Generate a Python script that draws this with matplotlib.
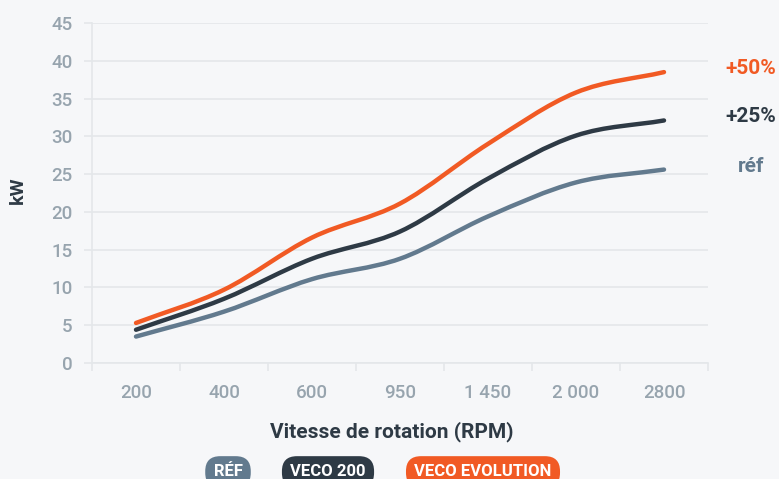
import numpy as np
import matplotlib
matplotlib.use("Agg")
import matplotlib.pyplot as plt
from matplotlib.path import Path
from matplotlib.patches import PathPatch

# data
rpm_labels = ["200", "400", "600", "950", "1 450", "2 000", "2800"]
ref_kw = [3.5, 6.8, 11.1, 13.8, 19.4, 23.9, 25.6]
veco200_kw = [4.4, 8.5, 13.8, 17.4, 24.4, 30.1, 32.1]
evolution_kw = [5.3, 9.7, 16.6, 21.1, 29.0, 35.8, 38.5]
end_labels = ["réf", "+25%", "+50%"]
legend_labels = ["RÉF", "VECO 200", "VECO EVOLUTION"]

BG = "#f6f7f9"
GRID = "#e4e7ea"
TICK_TXT = "#97a4ae"
DARK = "#2e3a45"
GRAY = "#627a8e"
ORANGE = "#f15a24"

plt.rcParams["font.family"] = ["Roboto", "DejaVu Sans"]


# monotone cubic curve as bezier path (same idea as chart.js "monotone")
def smooth_path(xs, ys):
    xs = np.asarray(xs, float)
    ys = np.asarray(ys, float)
    n = len(xs)
    d = np.diff(ys) / np.diff(xs)
    m = np.zeros(n)
    m[0], m[-1] = d[0], d[-1]
    for i in range(1, n - 1):
        m[i] = 0 if d[i - 1] * d[i] <= 0 else (d[i - 1] + d[i]) / 2
    for i in range(n - 1):
        if d[i] == 0:
            m[i] = m[i + 1] = 0
            continue
        a, b = m[i] / d[i], m[i + 1] / d[i]
        s = a * a + b * b
        if s > 9:
            t = 3 / np.sqrt(s)
            m[i], m[i + 1] = t * a * d[i], t * b * d[i]
    verts = [(xs[0], ys[0])]
    codes = [Path.MOVETO]
    for i in range(n - 1):
        h = (xs[i + 1] - xs[i]) / 3
        verts += [(xs[i] + h, ys[i] + m[i] * h),
                  (xs[i + 1] - h, ys[i + 1] - m[i + 1] * h),
                  (xs[i + 1], ys[i + 1])]
        codes += [Path.CURVE4] * 3
    return Path(verts, codes)


fig = plt.figure(figsize=(7.79, 4.79), dpi=100, facecolor=BG)
ax = fig.add_axes([92 / 779, 1 - 363 / 479, 616 / 779, 340 / 479])
ax.set_facecolor(BG)

x = np.arange(len(rpm_labels))
for vals, col in [(ref_kw, GRAY), (veco200_kw, DARK), (evolution_kw, ORANGE)]:
    ax.add_patch(PathPatch(smooth_path(x, vals), fill=False, edgecolor=col,
                           lw=3.2, capstyle="round", zorder=3))

ax.set_xlim(-0.5, len(rpm_labels) - 0.5)
ax.set_ylim(0, 45)
ax.set_yticks(range(0, 46, 5))
ax.set_xticks(x)
ax.set_xticklabels(rpm_labels)
ax.set_xticks(np.arange(-0.5, len(rpm_labels)), minor=True)
ax.grid(axis="y", color=GRID, lw=1.2)
ax.set_axisbelow(True)
for s in ["top", "right"]:
    ax.spines[s].set_visible(False)
for s in ["left", "bottom"]:
    ax.spines[s].set_color(GRID)
    ax.spines[s].set_linewidth(1.2)
ax.tick_params(axis="y", length=6, width=1.2, color=GRID, labelcolor=TICK_TXT,
               labelsize=13.5, pad=8)
ax.tick_params(axis="x", which="major", length=0, labelcolor=TICK_TXT,
               labelsize=13.5, pad=15)
ax.tick_params(axis="x", which="minor", length=6, width=1.2, color=GRID)
for lab in ax.get_xticklabels() + ax.get_yticklabels():
    lab.set_fontweight(500)

fig.text(18 / 779, 1 - 190 / 479, "kW", rotation=90, ha="center", va="center",
         fontsize=14, fontweight="bold", color=DARK)
fig.text(392 / 779, 1 - 432 / 479, "Vitesse de rotation (RPM)", ha="center",
         va="center", fontsize=15, fontweight="bold", color=DARK)

# labels at the right end of each curve
for txt, ypx, col in zip(end_labels, [167, 117, 69], [GRAY, DARK, ORANGE]):
    fig.text(751 / 779, 1 - ypx / 479, txt, ha="center", va="center",
             fontsize=15, fontweight="bold", color=col)

# pill legend
for txt, xpx, col in zip(legend_labels, [228, 328, 483], [GRAY, DARK, ORANGE]):
    fig.text(xpx / 779, 1 - 472 / 479, txt, ha="center", va="center",
             fontsize=12, fontweight="bold", color="white",
             bbox=dict(boxstyle="round,pad=0.5,rounding_size=0.9", fc=col, ec="none"))

fig.savefig("out.png", dpi=100, facecolor=BG)
